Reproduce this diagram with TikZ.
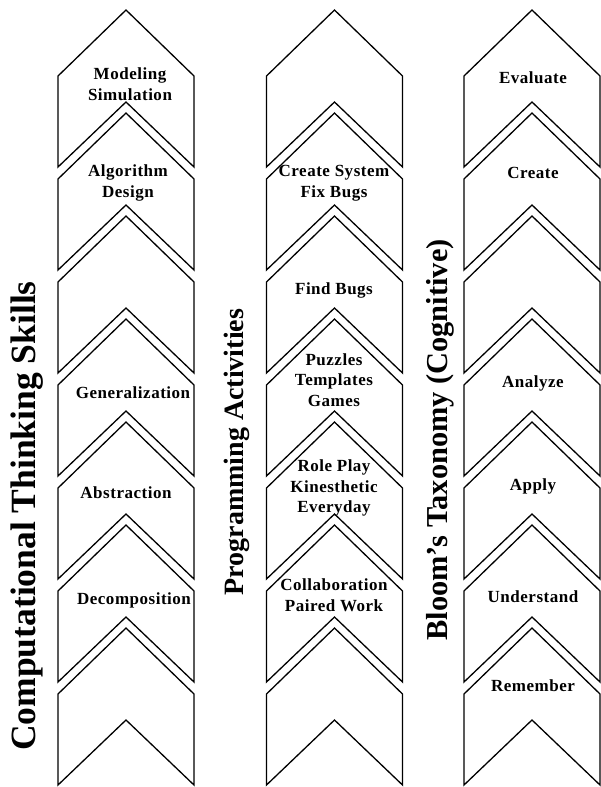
\documentclass[tikz,border=0pt]{standalone}
\usepackage{fontspec}
\setmainfont{Liberation Serif}
\newfontfamily\spacedfont[LetterSpace=3]{Liberation Serif}
\tikzset{
  chev/.style={draw=black, line width=1.3pt, fill=white, line join=miter},
  lbl/.style={font=\spacedfont\bfseries\fontsize{17}{20.5}\selectfont, align=center, inner sep=0pt},
  sidelbl/.style={font=\bfseries, rotate=90, inner sep=0pt, anchor=center}
}
\newcommand\mychevron[2]{% cx, y0
  \draw[chev] (#1,#2) -- (#1+68,#2+66) -- (#1+68,#2+157) -- (#1,#2+92)
    -- (#1-68,#2+157) -- (#1-68,#2+66) -- cycle;}
\begin{document}
\begin{tikzpicture}[x=1pt,y=-1pt]
\useasboundingbox (0,0) rectangle (600,787);
\foreach \cx in {126,334.5,532}{
  \foreach \r in {0,...,6}{
    \mychevron{\cx}{10+103*\r}
  }
}
% column 1
\node[lbl] (a1) at (130,84) {Modeling\\Simulation};
\node[lbl] (a2) at (128,183) {Algorithm\\Design};
\node[lbl] (a4) at (133,393) {Generalization};
\node[lbl] (a5) at (126,493) {Abstraction};
\node[lbl] (a6) at (134,600) {Decomposition};
% column 2
\node[lbl] (b2) at (334,183) {Create System\\Fix Bugs};
\node[lbl] (b3) at (334,290) {Find Bugs};
\node[lbl] (b4) at (334,380) {Puzzles\\Templates\\Games};
\node[lbl] (b5) at (334,488) {Role Play\\Kinesthetic\\Everyday};
\node[lbl] (b6) at (334,595) {Collaboration\\Paired Work};
% column 3
\node[lbl] (c1) at (533,78) {Evaluate};
\node[lbl] (c2) at (533,173) {Create};
\node[lbl] (c4) at (533,383) {Analyze};
\node[lbl] (c5) at (533,486) {Apply};
\node[lbl] (c6) at (533,597) {Understand};
\node[lbl] (c7) at (533,686) {Remember};
% side titles
\node[sidelbl, font=\bfseries\fontsize{35.5}{42}\selectfont] (t1) at (27,516) {Computational Thinking Skills};
\node[sidelbl, font=\bfseries\fontsize{28}{34}\selectfont] (t2) at (237,452) {Programming Activities};
\node[sidelbl, font=\bfseries\fontsize{30.4}{36}\selectfont] (t3) at (440,440) {Bloom’s Taxonomy (Cognitive)};
\end{tikzpicture}
\end{document}
